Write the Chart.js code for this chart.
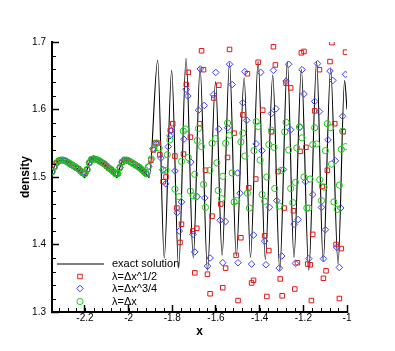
<!DOCTYPE html>
<html>
<head>
<meta charset="utf-8">
<script src="https://cdn.jsdelivr.net/npm/chart.js@4.4.1/dist/chart.umd.min.js"></script>
<style>
  html, body { margin: 0; padding: 0; background: #fff; }
  #wrap { width: 395px; height: 351px; }
</style>
</head>
<body>
<div id="wrap"><canvas id="chart" width="395" height="351"></canvas></div>
<script>
// axis ticks
const xMajorTicks = [-2.2, -2, -1.8, -1.6, -1.4, -1.2, -1];
const yMajorTicks = [1.3, 1.4, 1.5, 1.6, 1.7];
const xMinorStep = 0.04;
const yMinorStep = 0.02;

// exact solution (crests, troughs and spike extrema)
const exactX = [-2.35, -2.337, -2.324, -2.305, -2.269, -2.232, -2.212, -2.202, -2.192, -2.18, -2.168, -2.155,
  -2.122, -2.086, -2.064, -2.053, -2.044, -2.032, -2.018, -2.005, -1.976, -1.939, -1.918, -1.906,
  -1.867, -1.837, -1.803, -1.771, -1.737, -1.704, -1.673, -1.639, -1.602, -1.572, -1.538, -1.507,
  -1.471, -1.442, -1.407, -1.374, -1.34, -1.308, -1.273, -1.243, -1.209, -1.175, -1.139, -1.109,
  -1.075, -1.041, -1.011, -1.0];
const exactY = [1.507, 1.518, 1.524, 1.525, 1.520, 1.512, 1.505, 1.499, 1.509, 1.522, 1.527, 1.527,
  1.521, 1.512, 1.505, 1.499, 1.510, 1.521, 1.525, 1.525, 1.519, 1.510, 1.504, 1.499,
  1.673, 1.380, 1.658, 1.365, 1.676, 1.380, 1.662, 1.362, 1.641, 1.384, 1.669, 1.383,
  1.647, 1.381, 1.671, 1.378, 1.651, 1.362, 1.671, 1.381, 1.659, 1.362, 1.671, 1.375,
  1.660, 1.371, 1.643, 1.600];

// smooth region: the three schemes lie on top of each other
const smoothX = [-2.35, -2.34, -2.33, -2.32, -2.31, -2.30, -2.29, -2.28, -2.27, -2.26, -2.25, -2.24,
  -2.23, -2.22, -2.21, -2.20, -2.19, -2.18, -2.17, -2.16, -2.15, -2.14, -2.13, -2.12, -2.11, -2.10,
  -2.09, -2.08, -2.07, -2.06, -2.05, -2.04, -2.03, -2.02, -2.01, -2.00, -1.99, -1.98, -1.97, -1.96,
  -1.95, -1.94, -1.93, -1.92];
const smoothY = [1.508, 1.515, 1.521, 1.524, 1.525, 1.525, 1.524, 1.522, 1.520, 1.518, 1.516, 1.514,
  1.512, 1.509, 1.506, 1.505, 1.511, 1.521, 1.526, 1.527, 1.526, 1.525, 1.523, 1.521, 1.519, 1.516,
  1.513, 1.511, 1.508, 1.505, 1.505, 1.514, 1.522, 1.525, 1.525, 1.524, 1.522, 1.520, 1.518, 1.516,
  1.514, 1.511, 1.508, 1.505];

// λ=Δx^1/2 (red squares)
const redX = [-1.898, -1.887, -1.875, -1.864, -1.857, -1.842, -1.829, -1.809, -1.798, -1.788, -1.779,
  -1.765, -1.758, -1.749, -1.736, -1.727, -1.717, -1.706, -1.697, -1.688, -1.675, -1.666, -1.657,
  -1.648, -1.639, -1.627, -1.618, -1.61, -1.587, -1.578, -1.569, -1.556, -1.547, -1.538, -1.517,
  -1.508, -1.499, -1.486, -1.477, -1.456, -1.45, -1.437, -1.428, -1.418, -1.407, -1.386, -1.377,
  -1.367, -1.358, -1.346, -1.337, -1.328, -1.316, -1.306, -1.297, -1.288, -1.279, -1.258, -1.245,
  -1.239, -1.227, -1.215, -1.209, -1.197, -1.188, -1.18, -1.168, -1.163, -1.157, -1.148, -1.126,
  -1.114, -1.108, -1.096, -1.09, -1.078, -1.069, -1.056, -1.05, -1.035, -1.026, -1.017, -1.007];
const redY = [1.525, 1.540, 1.551, 1.550, 1.533, 1.493, 1.500, 1.569, 1.579, 1.531, 1.454,
  1.403, 1.430, 1.534, 1.637, 1.655, 1.559, 1.420, 1.358, 1.424, 1.579, 1.687, 1.659,
  1.510, 1.356, 1.327, 1.442, 1.617, 1.636, 1.460, 1.336, 1.365, 1.529, 1.689, 1.565,
  1.384, 1.317, 1.410, 1.592, 1.653, 1.484, 1.343, 1.347, 1.497, 1.670, 1.599, 1.413,
  1.323, 1.391, 1.567, 1.693, 1.666, 1.508, 1.349, 1.324, 1.454, 1.639, 1.632, 1.450,
  1.334, 1.373, 1.538, 1.684, 1.686, 1.544, 1.371, 1.370, 1.317, 1.415, 1.598, 1.659,
  1.486, 1.350, 1.361, 1.510, 1.671, 1.699, 1.579, 1.400, 1.320, 1.394, 1.567, 1.685];

// λ=Δx^3/4 (blue diamonds)
const blueX = [-1.907, -1.889, -1.872, -1.852, -1.843, -1.83, -1.819, -1.811, -1.804, -1.788, -1.778,
  -1.768, -1.758, -1.747, -1.737, -1.729, -1.715, -1.705, -1.697, -1.686, -1.68, -1.672, -1.654,
  -1.651, -1.639, -1.627, -1.612, -1.601, -1.587, -1.581, -1.569, -1.556, -1.547, -1.538, -1.526,
  -1.501, -1.499, -1.49, -1.477, -1.468, -1.459, -1.437, -1.428, -1.416, -1.395, -1.389, -1.377,
  -1.371, -1.355, -1.346, -1.337, -1.325, -1.322, -1.31, -1.299, -1.291, -1.279, -1.267, -1.258,
  -1.242, -1.236, -1.224, -1.215, -1.206, -1.197, -1.19, -1.175, -1.157, -1.148, -1.135, -1.126,
  -1.117, -1.108, -1.099, -1.087, -1.078, -1.065, -1.053, -1.047, -1.035, -1.029, -1.02, -1.007];
const blueY = [1.516, 1.542, 1.549, 1.528, 1.511, 1.490, 1.545, 1.561, 1.569, 1.509, 1.447,
  1.420, 1.463, 1.556, 1.630, 1.620, 1.522, 1.415, 1.389, 1.471, 1.599, 1.660, 1.606,
  1.469, 1.368, 1.380, 1.622, 1.655, 1.571, 1.436, 1.373, 1.434, 1.573, 1.667, 1.637,
  1.506, 1.373, 1.476, 1.610, 1.656, 1.584, 1.371, 1.414, 1.549, 1.655, 1.539, 1.405,
  1.370, 1.455, 1.594, 1.658, 1.601, 1.465, 1.365, 1.383, 1.511, 1.642, 1.667, 1.570,
  1.430, 1.372, 1.437, 1.574, 1.659, 1.623, 1.493, 1.379, 1.474, 1.612, 1.668, 1.597,
  1.455, 1.379, 1.422, 1.555, 1.657, 1.643, 1.524, 1.396, 1.366, 1.454, 1.590, 1.652];

// λ=Δx (green circles)
const greenX = [-1.91, -1.896, -1.884, -1.872, -1.86, -1.842, -1.829, -1.823, -1.811, -1.788, -1.77,
  -1.758, -1.75, -1.74, -1.727, -1.717, -1.705, -1.697, -1.69, -1.686, -1.68, -1.666, -1.657,
  -1.648, -1.628, -1.618, -1.602, -1.596, -1.59, -1.575, -1.569, -1.556, -1.547, -1.538, -1.526,
  -1.517, -1.505, -1.486, -1.477, -1.468, -1.456, -1.447, -1.426, -1.416, -1.407, -1.398, -1.389,
  -1.377, -1.367, -1.358, -1.346, -1.334, -1.331, -1.31, -1.3, -1.285, -1.279, -1.267, -1.258,
  -1.248, -1.236, -1.23, -1.218, -1.206, -1.197, -1.184, -1.175, -1.169, -1.157, -1.148, -1.139,
  -1.125, -1.117, -1.105, -1.099, -1.09, -1.075, -1.071, -1.06, -1.044, -1.035, -1.026, -1.02, -1.007];
const greenY = [1.515, 1.527, 1.542, 1.550, 1.543, 1.510, 1.510, 1.533, 1.555, 1.482, 1.471,
  1.523, 1.568, 1.571, 1.529, 1.479, 1.472, 1.504, 1.471, 1.554, 1.572, 1.545, 1.489,
  1.455, 1.510, 1.550, 1.557, 1.521, 1.480, 1.468, 1.501, 1.550, 1.580, 1.562, 1.506,
  1.463, 1.465, 1.552, 1.565, 1.531, 1.476, 1.454, 1.539, 1.582, 1.575, 1.525, 1.474,
  1.464, 1.500, 1.548, 1.569, 1.544, 1.483, 1.457, 1.510, 1.567, 1.581, 1.540, 1.483,
  1.462, 1.492, 1.543, 1.574, 1.558, 1.500, 1.454, 1.454, 1.497, 1.548, 1.573, 1.549,
  1.496, 1.465, 1.485, 1.539, 1.579, 1.573, 1.519, 1.463, 1.452, 1.488, 1.541, 1.568, 1.545];

const seriesNames = ['exact solution', 'λ=Δx^1/2', 'λ=Δx^3/4', 'λ=Δx'];
const RED = '#e01818';
const BLUE = '#3c3cff';
const GREEN = '#1ec81e';

function toPoints(xs, ys) {
  return xs.map((x, i) => ({ x: x, y: ys[i] }));
}

const fontFamily = '"Liberation Sans", Arial, Helvetica, sans-serif';

// 凡例（チャート内の左下）
const legendPlugin = {
  id: 'insideLegend',
  afterDraw(chart) {
    const ctx = chart.ctx;
    const area = chart.chartArea;
    const lx = area.left + 28;
    const tx = area.left + 60;
    const rows = [area.bottom - 48, area.bottom - 35.5, area.bottom - 23.5, area.bottom - 10.5];
    ctx.save();
    ctx.font = '11px ' + fontFamily;
    ctx.fillStyle = '#000';
    ctx.textBaseline = 'middle';
    ctx.textAlign = 'left';
    // line sample
    ctx.strokeStyle = '#000';
    ctx.lineWidth = 1.2;
    ctx.beginPath();
    ctx.moveTo(area.left + 5, rows[0]);
    ctx.lineTo(area.left + 52, rows[0]);
    ctx.stroke();
    const marks = [
      { style: 'rect', radius: 3.2, color: RED },
      { style: 'rectRot', radius: 3.3, color: BLUE },
      { style: 'circle', radius: 3.1, color: GREEN }
    ];
    marks.forEach((m, i) => {
      ctx.strokeStyle = m.color;
      ctx.fillStyle = 'rgba(0,0,0,0)';
      ctx.lineWidth = 1;
      Chart.helpers.drawPoint(ctx, { pointStyle: m.style, radius: m.radius, borderWidth: 1, rotation: 0 }, lx, rows[i + 1]);
    });
    ctx.fillStyle = '#000';
    seriesNames.forEach((name, i) => ctx.fillText(name, tx, rows[i]));
    ctx.restore();
  }
};

// 副目盛り（内向き）
const minorTickPlugin = {
  id: 'minorTicks',
  afterDraw(chart) {
    const ctx = chart.ctx;
    const xs = chart.scales.x;
    const ys = chart.scales.y;
    const area = chart.chartArea;
    ctx.save();
    ctx.strokeStyle = '#000';
    ctx.lineWidth = 1;
    ctx.beginPath();
    for (let k = Math.ceil(xs.min / xMinorStep); k * xMinorStep <= xs.max + 1e-9; k++) {
      const v = k * xMinorStep;
      const px = Math.round(xs.getPixelForValue(v)) + 0.5;
      ctx.moveTo(px, area.bottom);
      ctx.lineTo(px, area.bottom - 4);
    }
    for (let k = Math.ceil(ys.min / yMinorStep - 1e-9); k * yMinorStep <= ys.max + 1e-9; k++) {
      const v = k * yMinorStep;
      const py = Math.round(ys.getPixelForValue(v)) + 0.5;
      ctx.moveTo(area.left, py);
      ctx.lineTo(area.left + 4, py);
    }
    ctx.stroke();
    ctx.restore();
  }
};

function fmt(v) {
  return String(Math.round(v * 10) / 10);
}

const ctx = document.getElementById('chart').getContext('2d');
new Chart(ctx, {
  type: 'scatter',
  data: {
    datasets: [
      {
        label: seriesNames[0],
        data: toPoints(exactX, exactY),
        showLine: true,
        borderColor: '#000',
        borderWidth: 1.1,
        pointRadius: 0,
        cubicInterpolationMode: 'monotone',
        order: 4
      },
      {
        label: seriesNames[1],
        data: toPoints(smoothX.concat(redX), smoothY.concat(redY)),
        showLine: false,
        pointStyle: 'rect',
        pointRadius: 3.2,
        pointBorderWidth: 1,
        pointBorderColor: RED,
        pointBackgroundColor: 'rgba(0,0,0,0)',
        order: 3
      },
      {
        label: seriesNames[2],
        data: toPoints(smoothX.concat(blueX), smoothY.concat(blueY)),
        showLine: false,
        pointStyle: 'rectRot',
        pointRadius: 3.3,
        pointBorderWidth: 1,
        pointBorderColor: BLUE,
        pointBackgroundColor: 'rgba(0,0,0,0)',
        order: 2
      },
      {
        label: seriesNames[3],
        data: toPoints(smoothX.concat(greenX), smoothY.concat(greenY)),
        showLine: false,
        pointStyle: 'circle',
        pointRadius: 3.1,
        pointBorderWidth: 1,
        pointBorderColor: GREEN,
        pointBackgroundColor: 'rgba(0,0,0,0)',
        order: 1
      }
    ]
  },
  options: {
    responsive: false,
    animation: false,
    devicePixelRatio: 1,
    layout: { padding: { top: 42, right: 48, bottom: 0, left: 0 } },
    plugins: {
      legend: { display: false },
      tooltip: { enabled: false }
    },
    scales: {
      x: {
        type: 'linear',
        min: -2.351,
        max: -1,
        afterBuildTicks: (s) => { s.ticks = xMajorTicks.map(v => ({ value: v })); },
        afterFit: (s) => { s.height = 39; },
        ticks: {
          callback: (v) => fmt(v),
          color: '#000',
          font: { size: 10, family: fontFamily },
          padding: 7,
          maxRotation: 0,
          autoSkip: false
        },
        grid: { drawOnChartArea: false, tickLength: -7, tickWidth: 1.5, tickColor: '#000' },
        border: { color: '#000', width: 2 },
        title: {
          display: true,
          text: 'x',
          color: '#000',
          font: { size: 12, weight: 'bold', family: fontFamily },
          padding: { top: 0, bottom: 12 }
        }
      },
      y: {
        type: 'linear',
        min: 1.3,
        max: 1.7,
        afterBuildTicks: (s) => { s.ticks = yMajorTicks.map(v => ({ value: v })); },
        afterFit: (s) => { s.width = 52; },
        ticks: {
          callback: (v) => fmt(v),
          color: '#000',
          font: { size: 10, family: fontFamily },
          padding: 13
        },
        grid: { drawOnChartArea: false, tickLength: -7, tickWidth: 1.5, tickColor: '#000' },
        border: { color: '#000', width: 2 },
        title: {
          display: true,
          text: 'density',
          color: '#000',
          font: { size: 12, weight: 'bold', family: fontFamily },
          padding: { top: 18, bottom: 0 }
        }
      }
    }
  },
  plugins: [minorTickPlugin, legendPlugin]
});
</script>
</body>
</html>
